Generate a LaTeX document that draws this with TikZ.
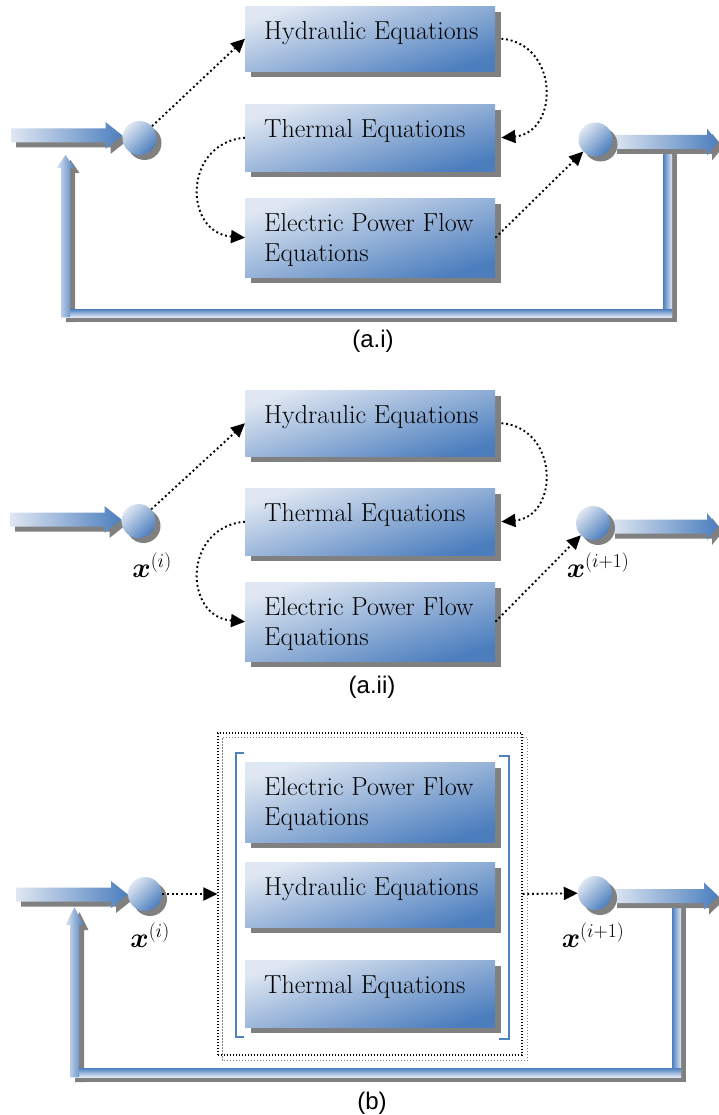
\RequirePackage{fix-cm}
\documentclass[tikz,border=0pt]{standalone}
\usepackage{amsmath}
\usepackage{fontspec}
\newfontfamily\labelfont{Liberation Sans}
\usetikzlibrary{arrows.meta,calc,shadows}

\definecolor{boxlight}{RGB}{223,231,242}
\definecolor{boxdark}{RGB}{76,126,190}
\definecolor{shadowgray}{RGB}{128,128,128}
\definecolor{bracketblue}{RGB}{79,129,189}

\tikzset{
  eqbox/.style={rectangle, inner sep=0pt, minimum width=250pt, anchor=north west,
    top color=boxlight, bottom color=boxdark, shading angle=18,
    general shadow={fill=shadowgray, shadow xshift=6pt, shadow yshift=-6pt}},
  eqtext/.style={inner sep=0pt, anchor=north west, align=left,
    font=\fontsize{26}{30}\selectfont},
  ball/.style={circle, inner sep=0pt, minimum size=34pt,
    top color=boxlight, bottom color=boxdark, shading angle=45,
    general shadow={fill=shadowgray, shadow xshift=5pt, shadow yshift=-5pt}},
  dotarrow/.style={line width=1.9pt, dash pattern=on 1.9pt off 2.8pt,
    -{Triangle[length=14pt,width=13pt]}},
  caption/.style={inner sep=0pt, font=\labelfont\fontsize{24}{28}\selectfont},
  iterate/.style={inner sep=0pt, font=\fontsize{28}{32}\selectfont},
  bracket/.style={draw=bracketblue, line width=2pt},
  framebox/.style={rectangle, inner sep=0pt, draw=black, line width=1.2pt,
    dash pattern=on 1.2pt off 1.8pt, minimum width=304pt, minimum height=322pt},
  frameshadow/.style={draw=shadowgray, line width=1.2pt, dash pattern=on 1.2pt off 1.8pt},
  barshadow/.style={fill=shadowgray},
  % horizontal block arrow: #1 total length, #2 head length
  pics/rblock/.style 2 args={code={
    \fill[shadowgray] (5,-2) -- ({#1-#2+5},-2) -- ({#1-#2+5},-8.5) -- ({#1+5},5)
      -- ({#1-#2+5},18.5) -- ({#1-#2+5},12) -- (5,12) -- cycle;
    \shade[left color=boxlight, right color=boxdark]
      (0,-7) -- ({#1-#2},-7) -- ({#1-#2},-13.5) -- (#1,0) -- ({#1-#2},13.5)
      -- ({#1-#2},7) -- (0,7) -- cycle;
  }},
}

\begin{document}
\begin{tikzpicture}[x=1pt,y=-1pt]
\useasboundingbox (0,0) rectangle (718,1115);

%% ===================== (a.i) =====================
% feedback loop, shadows first
\fill[barshadow] (668,154) rectangle (677,322);
\fill[barshadow] (66,314) rectangle (677,322);
\fill[barshadow] (66,322) -- (66,173) -- (61.5,173) -- (70.5,160) -- (79.5,173) -- (75,173) -- (75,322) -- cycle;
\shade[left color=boxdark, right color=boxlight] (663,149) rectangle (672,317);
\shade[top color=boxdark, bottom color=boxlight] (61,309) rectangle (672,317);
\shade[left color=boxlight, right color=boxdark]
  (61,317) -- (61,168) -- (56.5,168) -- (65.5,155) -- (74.5,168) -- (70,168) -- (70,317) -- cycle;

\pic (in1) at (11,135.5) {rblock={111.5}{17}};
\pic (out1) at (612,142) {rblock={106}{11}};
\node[ball] (c11) at (139.5,138) {};
\node[ball] (c12) at (595.5,139.5) {};

\node[eqbox, minimum height=65pt] (h1) at (245,6) {};
\node[eqbox, minimum height=67pt] (t1) at (245,104) {};
\node[eqbox, minimum height=79pt] (e1) at (245,198) {};
\node[eqtext] (h1t) at ([shift={(19pt,-15.5pt)}]h1.north west) {Hydraulic Equations};
\node[eqtext] (t1t) at ([shift={(19pt,-15.5pt)}]t1.north west) {Thermal Equations};
\node[eqtext] (e1t) at ([shift={(19pt,-15.5pt)}]e1.north west) {Electric Power Flow\\Equations};

\draw[dotarrow] (c11) -- (h1.west);
\draw[dotarrow] ([xshift=6pt]h1.east) .. controls +(58,5) and +(58,-5) .. ([xshift=6pt]t1.east);
\draw[dotarrow] (t1.west) .. controls +(-62,5) and +(-62,-5) .. (e1.west);
\draw[dotarrow] (e1.east) -- (c12);

\node[caption] (capA) at (373,341) {(a.i)};

%% ===================== (a.ii) =====================
\pic (in2) at (10,519.5) {rblock={111.5}{17}};
\pic (out2) at (610,526.5) {rblock={108}{11}};
\node[ball] (c21) at (138.5,521) {};
\node[ball] (c22) at (593,523) {};

\node[eqbox, minimum height=66pt] (h2) at (245,390) {};
\node[eqbox, minimum height=67pt] (t2) at (245,488) {};
\node[eqbox, minimum height=79pt] (e2) at (245,582) {};
\node[eqtext] (h2t) at ([shift={(19pt,-15.5pt)}]h2.north west) {Hydraulic Equations};
\node[eqtext] (t2t) at ([shift={(19pt,-15.5pt)}]t2.north west) {Thermal Equations};
\node[eqtext] (e2t) at ([shift={(19pt,-15.5pt)}]e2.north west) {Electric Power Flow\\Equations};

\draw[dotarrow] (c21) -- (h2.west);
\draw[dotarrow] ([xshift=6pt]h2.east) .. controls +(58,5) and +(58,-5) .. ([xshift=6pt]t2.east);
\draw[dotarrow] (t2.west) .. controls +(-62,5) and +(-62,-5) .. (e2.west);
\draw[dotarrow] (e2.east) -- (c22);

\node[iterate] (xi2) at (152,565) {$\boldsymbol{x}^{(i)}$};
\node[iterate] (xn2) at (598,565) {$\boldsymbol{x}^{(i+1)}$};
\node[caption] (capB) at (372,687) {(a.ii)};

%% ===================== (b) =====================
\fill[barshadow] (677,908) rectangle (686,1082);
\fill[barshadow] (75,1073) rectangle (686,1082);
\fill[barshadow] (75,1082) -- (75,930) -- (70.5,930) -- (79.5,912) -- (88.5,930) -- (84,930) -- (84,1082) -- cycle;
\shade[left color=boxdark, right color=boxlight] (672,903) rectangle (681,1077);
\shade[top color=boxdark, bottom color=boxlight] (70,1068) rectangle (681,1077);
\shade[left color=boxlight, right color=boxdark]
  (70,1077) -- (70,925) -- (65.5,925) -- (74.5,907) -- (83.5,925) -- (79,925) -- (79,1077) -- cycle;

\pic (in3) at (16,894.5) {rblock={112}{17}};
\pic (out3) at (612,896) {rblock={106}{14}};
\node[ball] (c31) at (145,894) {};
\node[ball] (c32) at (595,893) {};

\node[framebox] (frame) at (370,894) {};
\draw[frameshadow] ([shift={(5pt,-5pt)}]frame.south west) rectangle ([shift={(5pt,-5pt)}]frame.north east);

\node[eqbox, minimum height=80pt] (e3) at (245,762) {};
\node[eqbox, minimum height=65pt] (h3) at (245,862) {};
\node[eqbox, minimum height=67pt] (t3) at (245,960) {};
\node[eqtext] (e3t) at ([shift={(19pt,-15pt)}]e3.north west) {Electric Power Flow\\Equations};
\node[eqtext] (h3t) at ([shift={(19pt,-15pt)}]h3.north west) {Hydraulic Equations};
\node[eqtext] (t3t) at ([shift={(19pt,-15pt)}]t3.north west) {Thermal Equations};

\draw[bracket] (244,753) -- (236,753) -- (236,1037) -- (244,1037);
\draw[bracket] (499,756) -- (509,756) -- (509,1039) -- (499,1039);

\draw[dotarrow] (c31) -- (frame.west);
\draw[dotarrow] (frame.east) -- (c32);

\node[iterate] (xi3) at (150,935) {$\boldsymbol{x}^{(i)}$};
\node[iterate] (xn3) at (593,935) {$\boldsymbol{x}^{(i+1)}$};
\node[caption] (capC) at (372,1103) {(b)};
\end{tikzpicture}
\end{document}
